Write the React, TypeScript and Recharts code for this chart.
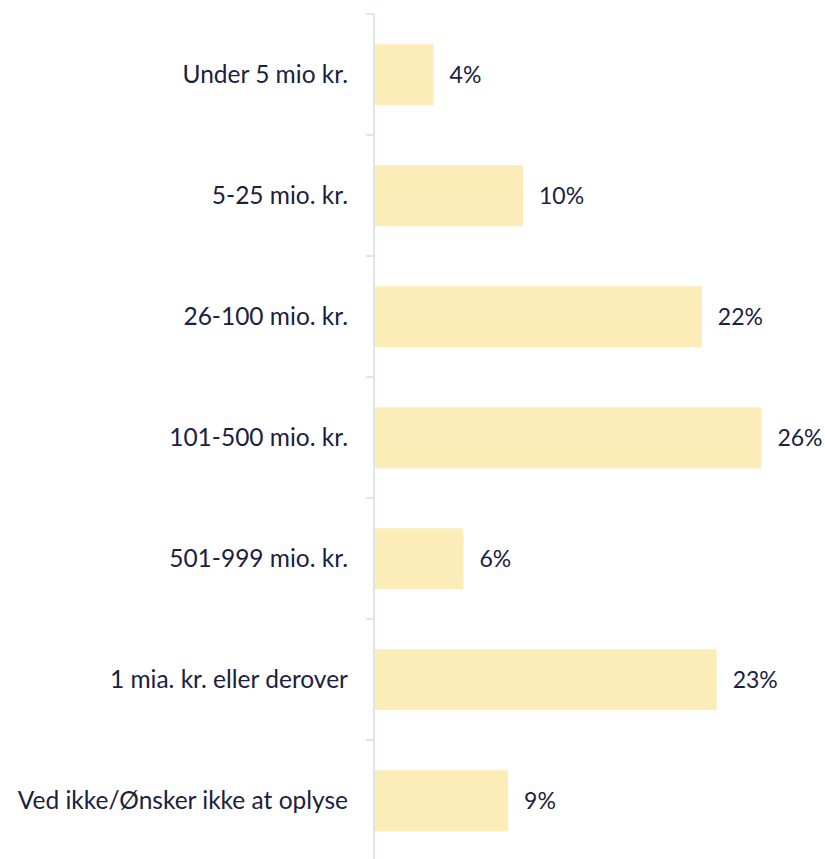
import React from 'react';
import { BarChart, Bar, XAxis, YAxis, LabelList } from 'recharts';

const categories = [
  'Under 5 mio kr.',
  '5-25 mio. kr.',
  '26-100 mio. kr.',
  '101-500 mio. kr.',
  '501-999 mio. kr.',
  '1 mia. kr. eller derover',
  'Ved ikke/Ønsker ikke at oplyse',
];
const shares = [4, 10, 22, 26, 6, 23, 9];

const data = categories.map((c, i) => ({ name: c, value: shares[i] }));

const CHART_W = 825;
const CHART_H = 870;
const MARGIN = { top: 14, right: 4, bottom: 9, left: 0 };
const AXIS_W = 374;
const TICK_GAP = 26;
const BAND = (CHART_H - MARGIN.top - MARGIN.bottom) / categories.length;
const TEXT = '#1b2140';
const AXIS_COLOR = '#dde8e5';
const FONT = 'Lato, sans-serif';

const CatTick = (props: any) => {
  const { x, y, payload } = props;
  const ax = x + TICK_GAP;
  return (
    <g>
      <line x1={ax - 8} x2={ax} y1={y - BAND / 2} y2={y - BAND / 2} stroke={AXIS_COLOR} strokeWidth={2} />
      <line x1={ax - 8} x2={ax} y1={y + BAND / 2} y2={y + BAND / 2} stroke={AXIS_COLOR} strokeWidth={2} />
      <text x={x} y={y} dy="0.35em" textAnchor="end" fill={TEXT} fontSize={24.5} fontFamily={FONT}>
        {payload.value}
      </text>
    </g>
  );
};

export default function App() {
  return (
    <div style={{ position: 'absolute', left: 0, top: 0, background: '#fff' }}>
      <BarChart
        width={CHART_W}
        height={CHART_H}
        data={data}
        layout="vertical"
        margin={MARGIN}
        barCategoryGap="25%"
      >
        <XAxis type="number" domain={[0, 30]} hide />
        <YAxis
          type="category"
          dataKey="name"
          width={AXIS_W}
          axisLine={{ stroke: AXIS_COLOR, strokeWidth: 2 }}
          tickLine={false}
          tickSize={0}
          tickMargin={TICK_GAP}
          tick={<CatTick />}
          interval={0}
        />
        <Bar dataKey="value" fill="#fbecb8" isAnimationActive={false}>
          <LabelList
            dataKey="value"
            position="right"
            offset={16}
            formatter={(v: any) => `${v}%`}
            fill={TEXT}
            fontSize={23}
            fontFamily={FONT}
          />
        </Bar>
      </BarChart>
    </div>
  );
}
